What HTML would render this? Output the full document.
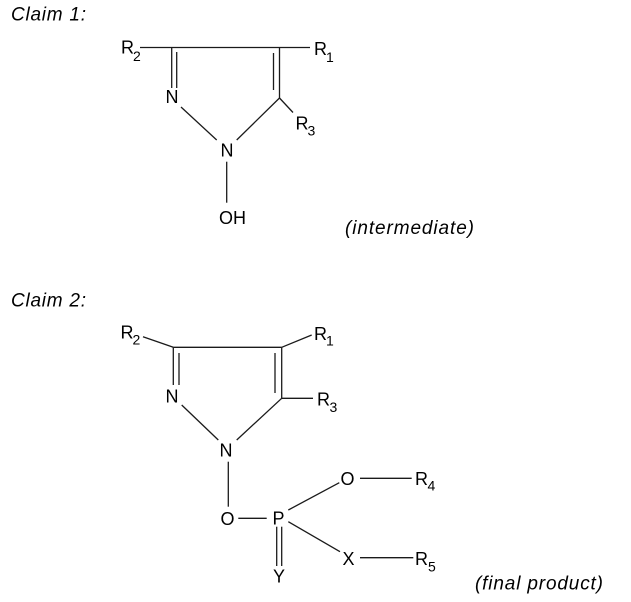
<!DOCTYPE html>
<html>
<head>
<meta charset="utf-8">
<style>
  html,body{margin:0;padding:0;background:#fff;}
  svg{display:block;}
  .a{font-family:"Liberation Sans",Arial,sans-serif;font-size:18px;fill:#000;}
  .s{font-family:"Liberation Sans",Arial,sans-serif;font-size:14px;fill:#000;}
  .c{font-family:"Liberation Sans",Arial,sans-serif;font-size:19px;font-style:italic;fill:#000;}
  line{stroke:#1a1a1a;stroke-width:1.3;}
</style>
</head>
<body>
<svg width="631" height="602" viewBox="0 0 631 602" xmlns="http://www.w3.org/2000/svg">
  <!-- Captions -->
  <text class="c" x="11" y="20.5" textLength="75" lengthAdjust="spacing">Claim 1:</text>
  <text class="c" x="345" y="234" textLength="129" lengthAdjust="spacing">(intermediate)</text>
  <text class="c" x="11" y="306.5" textLength="75" lengthAdjust="spacing">Claim 2:</text>
  <text class="c" x="475" y="589.5" textLength="128" lengthAdjust="spacing">(final product)</text>

  <!-- Claim 1 structure -->
  <line x1="140" y1="47.5" x2="310" y2="47.5"/>
  <line x1="171.7" y1="47.5" x2="171.7" y2="88"/>
  <line x1="176.7" y1="52" x2="176.7" y2="88"/>
  <line x1="279.5" y1="47.5" x2="279.5" y2="98"/>
  <line x1="273.5" y1="53" x2="273.5" y2="90"/>
  <line x1="279.5" y1="98" x2="293" y2="112.5"/>
  <line x1="279.5" y1="98" x2="236.7" y2="140"/>
  <line x1="181" y1="107" x2="216.7" y2="140"/>
  <line x1="226.7" y1="161.7" x2="226.7" y2="202.7"/>

  <text class="a" x="121" y="53.5">R</text><text class="s" x="133" y="61">2</text>
  <text class="a" x="314" y="55">R</text><text class="s" x="326" y="62">1</text>
  <text class="a" x="295.5" y="129.5">R</text><text class="s" x="307.5" y="135.5">3</text>
  <text class="a" x="165.5" y="103">N</text>
  <text class="a" x="220.5" y="156.7">N</text>
  <text class="a" x="219" y="224">OH</text>

  <!-- Claim 2 structure -->
  <line x1="143" y1="336.7" x2="173.3" y2="347.3"/>
  <line x1="173.3" y1="347.3" x2="281.7" y2="347.3"/>
  <line x1="281.7" y1="347.3" x2="311.7" y2="335"/>
  <line x1="173.3" y1="347.3" x2="173.3" y2="385"/>
  <line x1="179" y1="353" x2="179" y2="385"/>
  <line x1="281.7" y1="347.3" x2="281.7" y2="398.3"/>
  <line x1="275" y1="353" x2="275" y2="393"/>
  <line x1="281.7" y1="398.3" x2="313" y2="398.3"/>
  <line x1="181.7" y1="405" x2="218.3" y2="440"/>
  <line x1="281.7" y1="398.3" x2="236.7" y2="440"/>
  <line x1="228.3" y1="461.7" x2="228.3" y2="506.7"/>
  <line x1="238.3" y1="518.3" x2="266.7" y2="518.3"/>
  <line x1="276.7" y1="526.7" x2="276.7" y2="566"/>
  <line x1="281.7" y1="526.7" x2="281.7" y2="566"/>
  <line x1="288.3" y1="510" x2="339.3" y2="482.7"/>
  <line x1="360" y1="478.3" x2="411.7" y2="478.3"/>
  <line x1="288.3" y1="521.7" x2="340" y2="551.7"/>
  <line x1="360" y1="557.7" x2="413.3" y2="557.7"/>

  <text class="a" x="120.5" y="338.5">R</text><text class="s" x="132.5" y="344.5">2</text>
  <text class="a" x="314" y="340">R</text><text class="s" x="326" y="345.5">1</text>
  <text class="a" x="317" y="405.7">R</text><text class="s" x="329.5" y="412">3</text>
  <text class="a" x="165.5" y="402.5">N</text>
  <text class="a" x="219.5" y="456.7">N</text>
  <text class="a" x="220.5" y="525">O</text>
  <text class="a" x="272.5" y="524.5">P</text>
  <text class="a" x="273" y="582.5">Y</text>
  <text class="a" x="340.5" y="485">O</text>
  <text class="a" x="415" y="485">R</text><text class="s" x="427.5" y="490.5">4</text>
  <text class="a" x="342.5" y="565">X</text>
  <text class="a" x="415" y="565">R</text><text class="s" x="428" y="571.5">5</text>
</svg>
</body>
</html>
